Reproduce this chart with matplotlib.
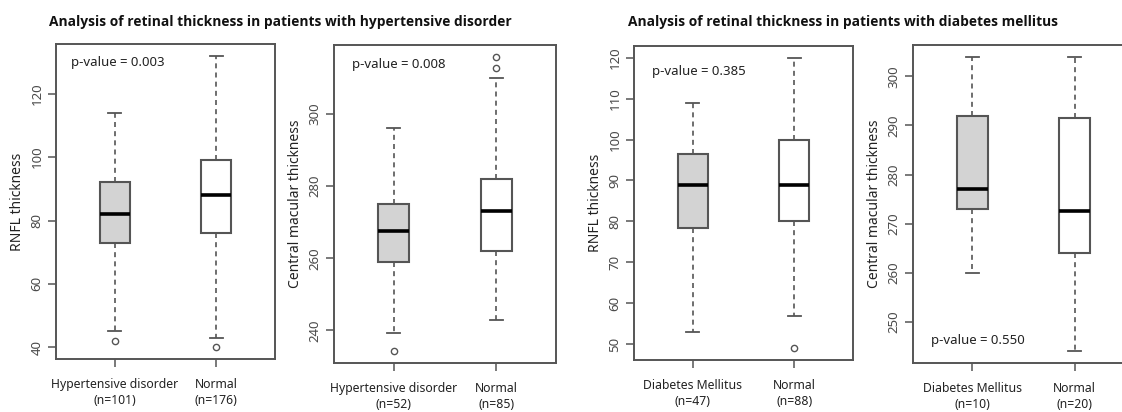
import matplotlib
matplotlib.use('Agg')
import matplotlib.pyplot as plt

plt.rcParams['font.family'] = ['Noto Sans', 'DejaVu Sans']

# ---- data ----
groups_ht = ['Hypertensive disorder\n(n=101)', 'Normal\n(n=176)']
groups_ht2 = ['Hypertensive disorder\n(n=52)', 'Normal\n(n=85)']
groups_dm = ['Diabetes Mellitus\n(n=47)', 'Normal\n(n=88)']
groups_dm2 = ['Diabetes Mellitus\n(n=10)', 'Normal\n(n=20)']

# RNFL, hypertensive
rnfl_ht_q1 = [73, 76]
rnfl_ht_med = [82, 88]
rnfl_ht_q3 = [92, 99]
rnfl_ht_lo = [45, 43]
rnfl_ht_hi = [114, 132]
rnfl_ht_fliers = [[42], [40]]

# central macular, hypertensive
cmt_ht_q1 = [259, 262]
cmt_ht_med = [267.6, 273]
cmt_ht_q3 = [275, 282]
cmt_ht_lo = [239.3, 243]
cmt_ht_hi = [296, 310]
cmt_ht_fliers = [[234.2], [312.8, 315.9]]

# RNFL, diabetes
rnfl_dm_q1 = [78.3, 80.2]
rnfl_dm_med = [89, 89]
rnfl_dm_q3 = [96.5, 100]
rnfl_dm_lo = [53, 57]
rnfl_dm_hi = [109, 120]
rnfl_dm_fliers = [[], [49]]

# central macular, diabetes
cmt_dm_q1 = [273, 264]
cmt_dm_med = [277, 272.5]
cmt_dm_q3 = [292, 291.5]
cmt_dm_lo = [260, 244]
cmt_dm_hi = [304, 304]
cmt_dm_fliers = [[], []]

GRAY = '#555555'
TICK = '#4a4a4a'


def stats(q1, med, q3, lo, hi, fl):
    return [dict(q1=a, med=b, q3=c, whislo=d, whishi=e, fliers=f)
            for a, b, c, d, e, f in zip(q1, med, q3, lo, hi, fl)]


def panel(rect, st, labels, ylabel, yticks, ptext, pxy):
    ax = fig.add_axes(rect)
    bp = ax.bxp(st, positions=[1, 2], widths=0.3, patch_artist=True,
                capwidths=0.13,
                boxprops=dict(edgecolor=GRAY, linewidth=1.5),
                whiskerprops=dict(color=GRAY, linewidth=1.2, linestyle=(0, (3, 2.5))),
                capprops=dict(color=GRAY, linewidth=1.3),
                medianprops=dict(color='black', linewidth=2.6),
                flierprops=dict(marker='o', markersize=4.5, markerfacecolor='none',
                                markeredgecolor=GRAY, markeredgewidth=1))
    bp['boxes'][0].set_facecolor('#d3d3d3')
    bp['boxes'][1].set_facecolor('white')
    ax.set_xlim(0.42, 2.58)
    # R-style limits: data range padded by 4%
    lo = min([s['whislo'] for s in st] + [v for s in st for v in s['fliers']])
    hi = max([s['whishi'] for s in st] + [v for s in st for v in s['fliers']])
    pad = (hi - lo) * 0.04
    ax.set_ylim(lo - pad, hi + pad)
    ax.set_xticks([1, 2])
    ax.set_xticklabels(labels, fontsize=8.8, color='#222222', linespacing=1.3)
    ax.set_yticks(yticks)
    ax.set_yticklabels([str(t) for t in yticks], rotation=90, va='center',
                       fontsize=9.5, color=TICK)
    ax.tick_params(axis='both', length=6, width=1.1, color=GRAY, pad=3)
    ax.tick_params(axis='x', pad=8)
    for s in ax.spines.values():
        s.set_color(GRAY)
        s.set_linewidth(1.4)
    ax.set_ylabel(ylabel, fontsize=10, color='#222222', labelpad=4)
    ax.text(pxy[0], pxy[1], ptext, transform=ax.transAxes, fontsize=9.5,
            color='#222222', ha='left', va='center')
    return ax


W, H = 1122, 412
fig = plt.figure(figsize=(W / 100, H / 100), dpi=100)


def rect(x0, x1, y0, y1):
    return [x0 / W, (H - y1) / H, (x1 - x0) / W, (y1 - y0) / H]


panel(rect(56, 275, 44, 359),
      stats(rnfl_ht_q1, rnfl_ht_med, rnfl_ht_q3, rnfl_ht_lo, rnfl_ht_hi, rnfl_ht_fliers),
      groups_ht, 'RNFL thickness', [40, 60, 80, 100, 120],
      'p-value = 0.003', (0.07, 0.94))
panel(rect(334, 556, 45, 363),
      stats(cmt_ht_q1, cmt_ht_med, cmt_ht_q3, cmt_ht_lo, cmt_ht_hi, cmt_ht_fliers),
      groups_ht2, 'Central macular thickness', [240, 260, 280, 300],
      'p-value = 0.008', (0.08, 0.94))
panel(rect(634, 853, 46, 360),
      stats(rnfl_dm_q1, rnfl_dm_med, rnfl_dm_q3, rnfl_dm_lo, rnfl_dm_hi, rnfl_dm_fliers),
      groups_dm, 'RNFL thickness', [50, 60, 70, 80, 90, 100, 110, 120],
      'p-value = 0.385', (0.08, 0.92))
panel(rect(913, 1134, 45, 363),
      stats(cmt_dm_q1, cmt_dm_med, cmt_dm_q3, cmt_dm_lo, cmt_dm_hi, cmt_dm_fliers),
      groups_dm2, 'Central macular thickness', [250, 260, 270, 280, 290, 300],
      'p-value = 0.550', (0.08, 0.07))

title_font = ['Open Sans', 'DejaVu Sans']
fig.text(280 / W, 1 - 22 / H,
         'Analysis of retinal thickness in patients with hypertensive disorder',
         ha='center', va='center', fontsize=9.9, fontweight='bold',
         family=title_font, color='#111111')
fig.text(843 / W, 1 - 22 / H,
         'Analysis of retinal thickness in patients with diabetes mellitus',
         ha='center', va='center', fontsize=9.9, fontweight='bold',
         family=title_font, color='#111111')

fig.savefig('out.png', dpi=100, facecolor='white')
